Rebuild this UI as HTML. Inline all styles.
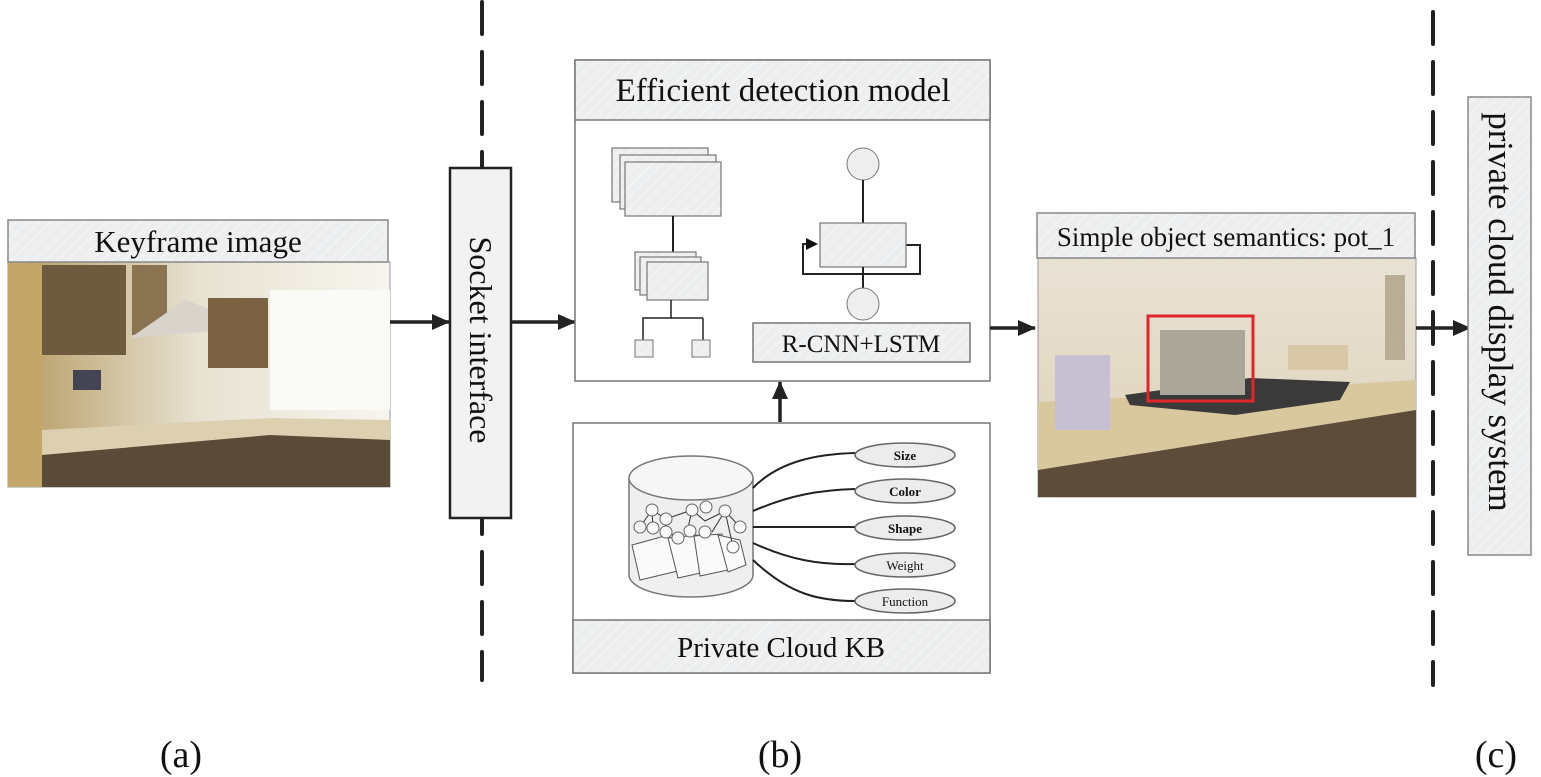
<!DOCTYPE html>
<html><head><meta charset="utf-8"><style>
html,body{margin:0;padding:0;background:#fff;}
svg{display:block;font-family:"Liberation Serif",serif;}
</style></head><body>
<svg width="1541" height="777" viewBox="0 0 1541 777" xmlns="http://www.w3.org/2000/svg">
<defs>
<pattern id="h" width="8" height="8" patternUnits="userSpaceOnUse" patternTransform="rotate(45)">
<rect width="8" height="8" fill="#eceef0"/><line x1="0" y1="0" x2="0" y2="8" stroke="#f7f7f7" stroke-width="2"/>
</pattern>
<linearGradient id="wall1" x1="0" y1="0" x2="1" y2="0"><stop offset="0" stop-color="#b59a62"/><stop offset="0.5" stop-color="#e8e2d2"/><stop offset="1" stop-color="#f7f5ef"/></linearGradient>
<linearGradient id="wall2" x1="0" y1="0" x2="0" y2="1"><stop offset="0" stop-color="#e9e2d4"/><stop offset="1" stop-color="#dcd0b8"/></linearGradient>
<marker id="ar" markerWidth="18" markerHeight="16" refX="17" refY="8" orient="auto" markerUnits="userSpaceOnUse"><path d="M0,0 L18,8 L0,16 z" fill="#222"/></marker>
</defs>
<g stroke="#222" stroke-width="4" stroke-dasharray="32 18" stroke-linecap="round">
<line x1="482" y1="2" x2="482" y2="680"/>
<line x1="1433" y1="12" x2="1433" y2="685"/>
</g>
<!-- Keyframe -->
<rect x="8" y="262" width="382" height="225" fill="url(#wall1)" stroke="#999"/>
<rect x="8" y="262" width="35" height="225" fill="#c2a66a"/>
<rect x="42" y="265" width="84" height="90" fill="#6e5a3e"/>
<rect x="132" y="265" width="35" height="70" fill="#8a7350"/>
<polygon points="130,338 185,300 235,318 226,330" fill="#d8d4cc"/>
<rect x="208" y="298" width="60" height="70" fill="#7a6242"/>
<rect x="270" y="290" width="120" height="120" fill="#fafaf7"/>
<rect x="73" y="370" width="28" height="20" fill="#445"/>
<polygon points="42,430 270,418 390,420 390,440 42,455" fill="#ddd0b0"/>
<polygon points="42,455 270,435 390,440 390,487 42,487" fill="#5a4a38"/>
<rect x="8" y="220" width="380" height="42" fill="url(#h)" stroke="#888" stroke-width="1.5"/>
<text x="198" y="252" font-size="31" text-anchor="middle" fill="#111">Keyframe image</text>
<line x1="390" y1="322" x2="449" y2="322" stroke="#222" stroke-width="3.5" marker-end="url(#ar)"/>
<!-- Socket -->
<rect x="450" y="168" width="61" height="350" fill="#f2f2f2" stroke="#222" stroke-width="2.5"/>
<text transform="translate(470,340) rotate(90)" font-size="32" text-anchor="middle" fill="#111">Socket interface</text>
<line x1="511" y1="322" x2="575" y2="322" stroke="#222" stroke-width="3.5" marker-end="url(#ar)"/>
<!-- Efficient detection -->
<rect x="575" y="60" width="415" height="321" fill="#fff" stroke="#777" stroke-width="1.5"/>
<rect x="575" y="60" width="415" height="60" fill="url(#h)" stroke="#777" stroke-width="1.5"/>
<text x="783" y="101" font-size="33" text-anchor="middle" fill="#111">Efficient detection model</text>
<g stroke="#777" stroke-width="1.2" fill="url(#h)">
<rect x="612" y="148" width="96" height="54"/><rect x="620" y="155" width="96" height="54"/><rect x="625" y="162" width="96" height="54"/>
</g>
<line x1="673" y1="216" x2="673" y2="252" stroke="#222" stroke-width="2"/>
<g stroke="#777" stroke-width="1.2" fill="url(#h)">
<rect x="635" y="252" width="61" height="38"/><rect x="640" y="257" width="61" height="38"/><rect x="647" y="262" width="61" height="38"/>
</g>
<polyline points="671,300 671,318 643,318 643,340" fill="none" stroke="#222" stroke-width="1.5"/>
<line x1="671" y1="318" x2="703" y2="318" stroke="#222" stroke-width="1.5"/>
<line x1="703" y1="318" x2="703" y2="340" stroke="#222" stroke-width="1.5"/>
<rect x="635" y="340" width="18" height="17" fill="url(#h)" stroke="#777"/>
<rect x="692" y="340" width="18" height="17" fill="url(#h)" stroke="#777"/>
<circle cx="863" cy="164" r="16" fill="#eee" stroke="#777"/>
<line x1="863" y1="180" x2="863" y2="223" stroke="#222" stroke-width="2"/>
<polyline points="906,245 920,245 920,274 803,274 803,244 815,244" fill="none" stroke="#222" stroke-width="2"/>
<path d="M806,238 L818,244 L806,250 z" fill="#111"/>
<rect x="820" y="223" width="86" height="44" fill="url(#h)" stroke="#777" stroke-width="1.2"/>
<line x1="863" y1="267" x2="863" y2="289" stroke="#222" stroke-width="2"/>
<circle cx="863" cy="304" r="16" fill="#eee" stroke="#777"/>
<rect x="753" y="323" width="217" height="39" fill="url(#h)" stroke="#777" stroke-width="1.5"/>
<text x="861" y="352" font-size="25" text-anchor="middle" fill="#111">R-CNN+LSTM</text>
<line x1="780" y1="422" x2="780" y2="382" stroke="#222" stroke-width="3.5" marker-end="url(#ar)"/>
<!-- KB -->
<rect x="573" y="423" width="417" height="250" fill="#fff" stroke="#777" stroke-width="1.5"/>
<rect x="573" y="620" width="417" height="53" fill="url(#h)" stroke="#777" stroke-width="1.5"/>
<text x="781" y="657" font-size="29" text-anchor="middle" fill="#111">Private Cloud KB</text>
<path d="M629,478 L629,575 A62,22 0 0 0 753,575 L753,478" fill="#efefef" stroke="#777" stroke-width="1.5"/>
<ellipse cx="691" cy="478" rx="62" ry="22" fill="#f6f6f6" stroke="#777" stroke-width="1.5"/>
<g fill="#fafafa" stroke="#555" stroke-width="1">
<polygon points="632,545 672,534 682,570 640,580"/>
<polygon points="668,538 698,535 705,572 678,578"/>
<polygon points="694,536 722,534 728,570 700,576"/>
<polygon points="718,535 740,540 746,565 728,572"/>
</g>
<g stroke="#333" stroke-width="1" fill="none"><polyline points="640,527 652,510 666,519 692,510 705,521 725,511 740,527"/><line x1="652" y1="510" x2="653" y2="528"/><line x1="692" y1="510" x2="688" y2="528"/><line x1="725" y1="511" x2="712" y2="532"/><line x1="725" y1="511" x2="733" y2="547"/></g>
<g fill="#f8f8f8" stroke="#666" stroke-width="1">
<circle cx="652" cy="510" r="6"/><circle cx="666" cy="519" r="6"/><circle cx="692" cy="510" r="6"/><circle cx="706" cy="507" r="6"/><circle cx="725" cy="511" r="6"/><circle cx="640" cy="527" r="6"/><circle cx="653" cy="528" r="6"/><circle cx="666" cy="532" r="6"/><circle cx="678" cy="538" r="6"/><circle cx="690" cy="531" r="6"/><circle cx="705" cy="532" r="6"/><circle cx="740" cy="527" r="6"/><circle cx="733" cy="547" r="6"/>
</g>
<g fill="none" stroke="#222" stroke-width="2">
<path d="M753,488 C780,460 820,454 855,453"/>
<path d="M753,511 C790,495 820,490 855,489"/>
<path d="M753,527 L855,527"/>
<path d="M753,543 C790,560 820,565 855,564"/>
<path d="M753,560 C790,595 820,601 855,601"/>
</g>
<g fill="#ececec" stroke="#666" stroke-width="1.5">
<ellipse cx="905" cy="455" rx="50" ry="12"/><ellipse cx="905" cy="491" rx="50" ry="12"/><ellipse cx="905" cy="528" rx="50" ry="12"/><ellipse cx="905" cy="565" rx="50" ry="12"/><ellipse cx="905" cy="601" rx="50" ry="12"/>
</g>
<g font-size="13" text-anchor="middle" fill="#111">
<text x="905" y="460" font-weight="bold">Size</text><text x="905" y="496" font-weight="bold">Color</text><text x="905" y="533" font-weight="bold">Shape</text><text x="905" y="570">Weight</text><text x="905" y="606">Function</text>
</g>
<line x1="990" y1="328" x2="1035" y2="328" stroke="#222" stroke-width="3.5" marker-end="url(#ar)"/>
<!-- Simple object -->
<rect x="1038" y="258" width="378" height="239" fill="url(#wall2)" stroke="#999"/>
<polygon points="1038,402 1120,398 1416,380 1416,410 1038,470" fill="#d9c79e"/>
<polygon points="1038,470 1416,410 1416,497 1038,497" fill="#5e4c3a"/>
<polygon points="1125,395 1250,378 1350,382 1340,400 1235,415 1130,405" fill="#3a3a3a"/>
<rect x="1160" y="330" width="85" height="65" fill="#aaa69a"/>
<rect x="1055" y="355" width="55" height="75" fill="#c7c0d2"/>
<rect x="1288" y="345" width="60" height="25" fill="#d8c8a8"/>
<rect x="1385" y="275" width="20" height="85" fill="#b9ad95"/>
<rect x="1148" y="316" width="105" height="85" fill="none" stroke="#e0262a" stroke-width="3"/>
<rect x="1037" y="213" width="378" height="45" fill="url(#h)" stroke="#888" stroke-width="1.5"/>
<text x="1226" y="246" font-size="27" text-anchor="middle" fill="#111">Simple object semantics: pot_1</text>
<line x1="1416" y1="328" x2="1470" y2="328" stroke="#222" stroke-width="3.5" marker-end="url(#ar)"/>
<!-- private cloud display -->
<rect x="1468" y="97" width="63" height="458" fill="url(#h)" stroke="#888" stroke-width="1.5"/>
<text transform="translate(1489,312) rotate(90)" font-size="35" text-anchor="middle" fill="#111">private cloud display system</text>
<g font-size="38" text-anchor="middle" fill="#111">
<text x="181" y="767">(a)</text><text x="780" y="767">(b)</text><text x="1496" y="767">(c)</text>
</g>
</svg>
</body></html>
